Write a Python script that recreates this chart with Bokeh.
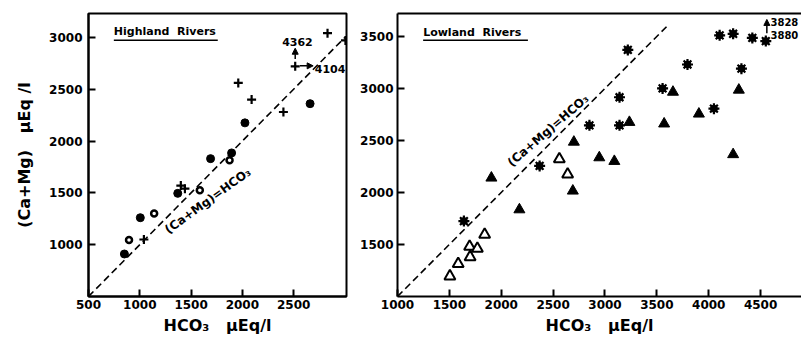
from bokeh.plotting import figure
from bokeh.layouts import row
from bokeh.models import Range1d, FixedTicker, LinearAxis, Label, Arrow, NormalHead
from bokeh.embed import file_html
from bokeh.resources import INLINE

# ---------------- data ----------------
# Highland Rivers
hl_x_ticks = [500, 1000, 1500, 2000, 2500]
hl_y_ticks = [1000, 1500, 2000, 2500, 3000]
hl_dot_x = [850, 1005, 1370, 1690, 1895, 2025, 2660]
hl_dot_y = [910, 1260, 1495, 1830, 1885, 2175, 2360]
hl_plus_x = [1040, 1400, 1440, 1960, 2090, 2400, 2515, 2830, 3005]
hl_plus_y = [1050, 1570, 1540, 2560, 2400, 2280, 2720, 3040, 2970]
hl_open_x = [895, 1140, 1585, 1875]
hl_open_y = [1045, 1300, 1525, 1815]
hl_line = [500, 3000]

# Lowland Rivers
ll_x_ticks = [1000, 1500, 2000, 2500, 3000, 3500, 4000, 4500]
ll_y_ticks = [1500, 2000, 2500, 3000, 3500]
ll_star_x = [1640, 2370, 3220, 2850, 3140, 3140, 3795, 3555, 4050, 4105, 4235, 4315, 4420, 4550]
ll_star_y = [1725, 2255, 3370, 2645, 2915, 2645, 3230, 3000, 2805, 3510, 3525, 3190, 3485, 3455]
ll_tri_x = [1905, 2175, 2700, 2690, 2945, 3090, 3235, 3570, 3655, 3905, 4290, 4235]
ll_tri_y = [2140, 1835, 2485, 2015, 2335, 2300, 2675, 2660, 2965, 2755, 2985, 2365]
ll_open_x = [1505, 1585, 1695, 1700, 1770, 1840, 2560, 2640]
ll_open_y = [1195, 1315, 1480, 1380, 1460, 1595, 2320, 2175]
ll_line = [1000, 3600]

FONT = "DejaVu Sans"
NB = "\u00a0"
X_TITLE = "HCO\u2083" + NB * 3 + "\u00b5Eq/l"
Y_TITLE = "(Ca+Mg)" + NB * 3 + "\u00b5Eq" + NB + "/l"


def style_axes(p):
    for ax in p.xaxis + p.yaxis:
        ax.axis_line_width = 2
        ax.axis_line_color = "black"
        ax.major_tick_in = 7
        ax.major_tick_out = 0
        ax.major_tick_line_width = 2
        ax.minor_tick_line_color = None
        ax.major_label_text_font = FONT
        ax.major_label_text_font_style = "bold"
        ax.major_label_text_font_size = "12px"
        ax.major_label_text_color = "black"
        ax.axis_label_text_font = FONT
        ax.axis_label_text_font_style = "bold"
        ax.axis_label_text_font_size = "16px"
        ax.axis_label_text_color = "black"
    p.xgrid.visible = False
    p.ygrid.visible = False


def note(p, x, y, text, size="11px", align="left", angle=0):
    p.add_layout(Label(x=x, y=y, text=text, angle=angle, angle_units="deg",
                       text_align=align, text_baseline="middle", text_font=FONT,
                       text_font_style="bold", text_font_size=size, text_color="black"))


def arrow(p, x0, y0, x1, y1):
    p.add_layout(Arrow(end=NormalHead(size=6, fill_color="black", line_color="black"),
                       x_start=x0, y_start=y0, x_end=x1, y_end=y1,
                       line_color="black", line_width=1.5))


# ---------------- Highland panel ----------------
p1 = figure(width=350, height=348, output_backend="svg", toolbar_location=None,
            x_range=Range1d(500, 3015), y_range=Range1d(500, 3230),
            min_border_left=88, min_border_right=4, min_border_top=12, min_border_bottom=52)
p1.outline_line_color = "black"
p1.outline_line_width = 2
p1.xaxis.ticker = FixedTicker(ticks=hl_x_ticks)
p1.yaxis.ticker = FixedTicker(ticks=hl_y_ticks)
p1.xaxis.axis_label = X_TITLE
p1.yaxis.axis_label = Y_TITLE
style_axes(p1)
p1.yaxis.major_label_standoff = 6
p1.yaxis.axis_label_standoff = 12
p1.xaxis.major_label_standoff = 3
p1.xaxis.axis_label_standoff = 4

p1.line(hl_line, hl_line, line_color="black", line_width=1.6, line_dash="7 4")
p1.scatter(hl_dot_x, hl_dot_y, marker="circle", size=8, fill_color="black", line_color="black")
p1.scatter(hl_plus_x, hl_plus_y, marker="cross", size=9, line_color="black", line_width=2.2)
p1.scatter(hl_open_x, hl_open_y, marker="circle", size=6, fill_color="white",
           line_color="black", line_width=2.5)

note(p1, 1663, 1423, "(Ca+Mg)=HCO\u2083", size="12px", align="center", angle=36)
note(p1, 747, 3058, "Highland" + NB * 2 + "Rivers", size="11px")
p1.segment(x0=[747], y0=[2971], x1=[1760], y1=[2971], line_color="black", line_width=1.5)
# off-scale point annotations
arrow(p1, 2515, 2790, 2515, 2895)
arrow(p1, 2560, 2725, 2690, 2725)
note(p1, 2537, 2955, "4362", align="center")
note(p1, 2706, 2692, "4104")

# ---------------- Lowland panel ----------------
p2 = figure(width=451, height=348, output_backend="svg", toolbar_location=None,
            x_range=Range1d(1000, 4894), y_range=Range1d(1000, 3720),
            min_border_left=47, min_border_right=0, min_border_top=13, min_border_bottom=52)
p2.outline_line_color = None
p2.xaxis.ticker = FixedTicker(ticks=ll_x_ticks)
p2.yaxis.ticker = FixedTicker(ticks=ll_y_ticks)
p2.xaxis.axis_label = X_TITLE
top = LinearAxis(ticker=FixedTicker(ticks=[]), major_label_text_font_size="0px",
                 major_tick_line_color=None, minor_tick_line_color=None,
                 axis_line_width=2, axis_line_color="black", major_label_standoff=0)
p2.add_layout(top, "above")
style_axes(p2)
p2.yaxis.major_label_standoff = 4
p2.xaxis.major_label_standoff = 3
p2.xaxis.axis_label_standoff = 4
top.major_tick_in = 0
top.major_tick_line_color = None
top.major_label_text_font_size = "0px"

p2.line(ll_line, ll_line, line_color="black", line_width=1.6, line_dash="7 4")
p2.scatter(ll_star_x, ll_star_y, marker="circle", size=7, fill_color="black", line_color="black")
p2.scatter(ll_star_x, ll_star_y, marker="asterisk", size=11, line_color="black", line_width=2.2)
p2.scatter(ll_tri_x, ll_tri_y, marker="triangle", size=11, fill_color="black", line_color="black")
p2.scatter(ll_open_x, ll_open_y, marker="triangle", size=11, fill_color="white",
           line_color="black", line_width=2)

note(p2, 2452, 2596, "(Ca+Mg)=HCO\u2083", size="12px", align="center", angle=41)
note(p2, 1247, 3541, "Lowland" + NB * 2 + "Rivers", size="11px")
p2.segment(x0=[1247], y0=[3462], x1=[2257], y1=[3462], line_color="black", line_width=1.5)
arrow(p2, 4560, 3529, 4560, 3663)
note(p2, 4595, 3635, "3828", size="10px")
note(p2, 4595, 3510, "3880", size="10px")

layout = row(p1, p2)
open("out.html", "w").write(file_html(layout, INLINE))
